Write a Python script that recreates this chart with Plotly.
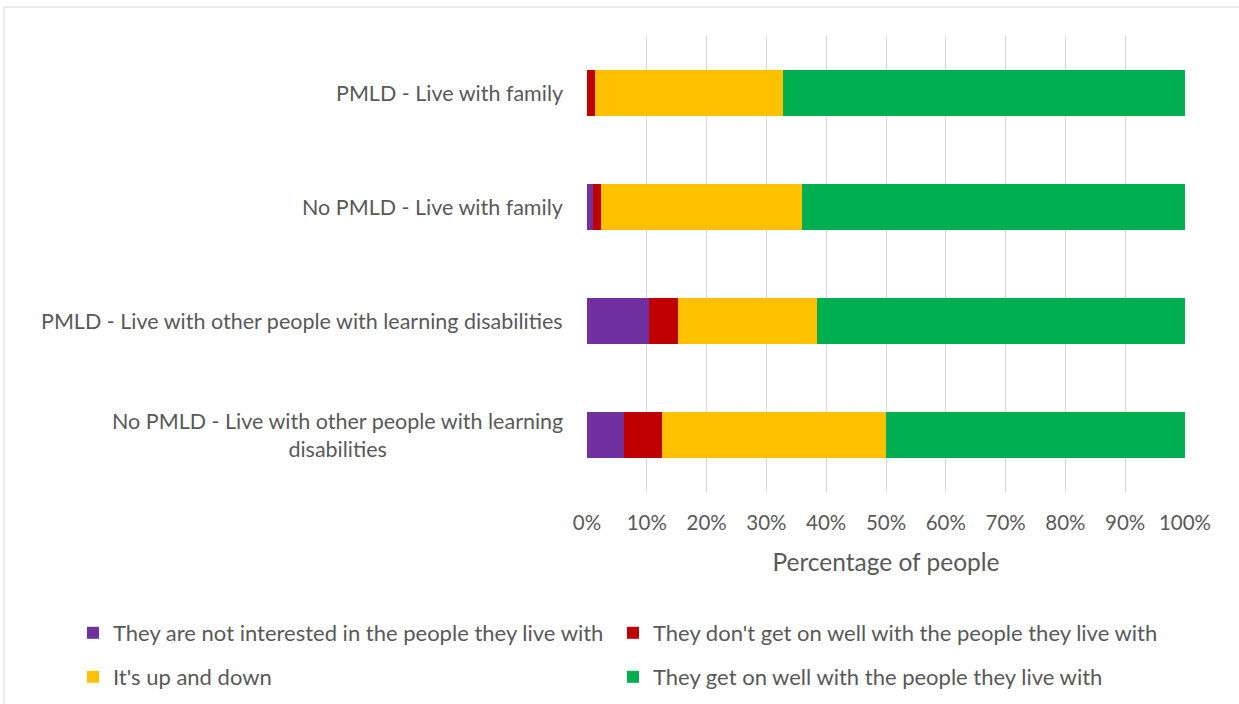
import plotly.graph_objects as go

categories = [
    "PMLD - Live with family",
    "No PMLD - Live with family",
    "PMLD - Live with other people with learning disabilities",
    "No PMLD - Live with other people with learning<br>disabilities",
]
series_names = [
    "They are not interested in the people they live with",
    "They don't get on well with the people they live with",
    "It's up and down",
    "They get on well with the people they live with",
]
not_interested = [0.0, 1.0, 10.3, 6.2]
dont_get_on = [1.3, 1.3, 5.0, 6.3]
up_and_down = [31.5, 33.7, 23.2, 37.5]
get_on_well = [67.2, 64.0, 61.5, 50.0]
colors = ["#7030A0", "#C00000", "#FFC000", "#00B050"]
legend_ids = ["legend", "legend2", "legend3", "legend4"]
tick_vals = [0, 10, 20, 30, 40, 50, 60, 70, 80, 90, 100]
tick_text = [f"{v}%" for v in tick_vals]

FONT = "Lato"
GREY = "#595959"

fig = go.Figure()
for name, vals, col, lg in zip(series_names, [not_interested, dont_get_on, up_and_down, get_on_well], colors, legend_ids):
    fig.add_trace(go.Bar(
        y=categories, x=vals, name=name, orientation="h", showlegend=True,
        marker=dict(color=col, line=dict(width=0)), legend=lg,
    ))

for c in categories:
    fig.add_annotation(
        x=0, xref="paper", y=c, yref="y", text=c, showarrow=False,
        xanchor="right", align="center", xshift=-22,
        font=dict(family=FONT, size=21.5, color=GREY),
    )

leg_common = dict(
    orientation="h", xanchor="left", yanchor="top",
    font=dict(family=FONT, size=22, color=GREY), itemwidth=30,
    bgcolor="rgba(0,0,0,0)",
)
col_x = [(73 - 587) / 598, (613 - 587) / 598]
row_y = [(492 - 612) / 456, (492 - 656) / 456]

fig.update_layout(
    width=1239, height=704, showlegend=True,
    barmode="stack", bargap=0.6,
    paper_bgcolor="white", plot_bgcolor="white",
    margin=dict(l=587, r=54, t=36, b=212, autoexpand=False),
    font=dict(family=FONT, color=GREY, size=18),
    xaxis=dict(
        range=[0, 100], tickvals=tick_vals, ticktext=tick_text, automargin=False,
        showgrid=True, gridcolor="#D9D9D9", gridwidth=1,
        zeroline=False, showline=False, ticks="", ticklabelstandoff=16,
        tickfont=dict(family=FONT, size=20.5, color=GREY),
        title=dict(text="Percentage of people", font=dict(family=FONT, size=24.5, color=GREY), standoff=21),
    ),
    yaxis=dict(
        autorange="reversed", showticklabels=False, showgrid=False, automargin=False,
        zeroline=False, showline=False, ticks="",
    ),
    legend=dict(x=col_x[0], y=row_y[0], **leg_common),
    legend2=dict(x=col_x[1], y=row_y[0], **leg_common),
    legend3=dict(x=col_x[0], y=row_y[1], **leg_common),
    legend4=dict(x=col_x[1], y=row_y[1], **leg_common),
    shapes=[dict(
        type="rect", xref="paper", yref="paper",
        x0=(4 - 587) / 598, x1=(1245 - 587) / 598,
        y0=(492 - 712) / 456, y1=(492 - 7) / 456,
        line=dict(color="#D9D9D9", width=1), fillcolor="rgba(0,0,0,0)", layer="below",
    )],
)

fig.write_html("out.html", config={"displayModeBar": False},
               post_script="document.body.style.margin='0px';")
